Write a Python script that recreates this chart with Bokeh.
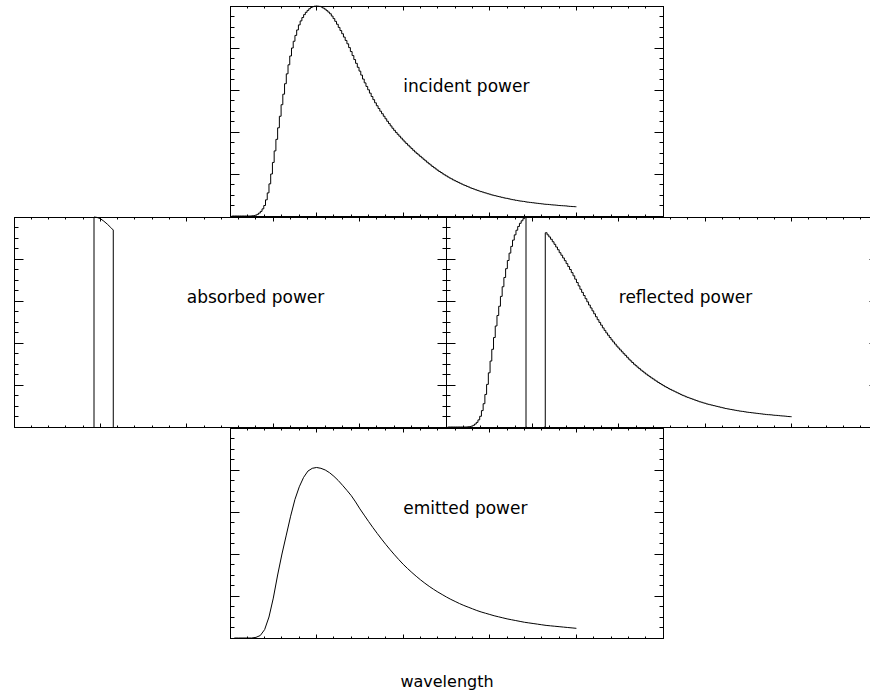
import numpy as np
from bokeh.plotting import figure
from bokeh.models import Range1d, LinearAxis, SingleIntervalTicker, CustomJSTickFormatter
from bokeh.embed import file_html
from bokeh.resources import INLINE
from bokeh.core.properties import value

# ---------------- data ----------------
# incident power, histogram bins centred at 0.02, 0.04, ... 4.00 (axis 0..5)
incident = [
    0, 0, 0, 0, 0, 0, 0, 0, 0, 0,
    0, 0, 0.001, 0.002, 0.004, 0.008, 0.014, 0.022, 0.034, 0.05,
    0.077, 0.11, 0.153, 0.20, 0.255, 0.31, 0.365, 0.42, 0.475, 0.53,
    0.58, 0.63, 0.677, 0.72, 0.762, 0.80, 0.832, 0.86, 0.886, 0.91,
    0.929, 0.945, 0.959, 0.97, 0.979, 0.987, 0.993, 0.997, 0.999, 1.0,
    0.999, 0.998, 0.995, 0.99, 0.985, 0.978, 0.971, 0.963, 0.952, 0.94,
    0.927, 0.913, 0.898, 0.883, 0.868, 0.852, 0.836, 0.82, 0.802, 0.783,
    0.764, 0.745, 0.727, 0.708, 0.690, 0.671, 0.652, 0.634, 0.617, 0.601,
    0.585, 0.569, 0.554, 0.539, 0.525, 0.512, 0.499, 0.487, 0.475, 0.463,
    0.451, 0.440, 0.429, 0.418, 0.408, 0.398, 0.389, 0.380, 0.371, 0.362,
    0.353, 0.345, 0.337, 0.329, 0.321, 0.313, 0.305, 0.298, 0.291, 0.284,
    0.277, 0.270, 0.263, 0.256, 0.249, 0.243, 0.236, 0.230, 0.224, 0.218,
    0.212, 0.207, 0.201, 0.196, 0.191, 0.186, 0.181, 0.177, 0.172, 0.168,
    0.164, 0.160, 0.156, 0.152, 0.148, 0.145, 0.141, 0.138, 0.134, 0.131,
    0.128, 0.125, 0.122, 0.119, 0.116, 0.114, 0.111, 0.109, 0.106, 0.104,
    0.101, 0.099, 0.097, 0.095, 0.093, 0.091, 0.089, 0.087, 0.085, 0.084,
    0.082, 0.080, 0.078, 0.077, 0.075, 0.074, 0.072, 0.071, 0.070, 0.069,
    0.067, 0.066, 0.065, 0.064, 0.063, 0.062, 0.061, 0.060, 0.059, 0.058,
    0.057, 0.056, 0.0555, 0.055, 0.054, 0.053, 0.0525, 0.052, 0.051, 0.050,
    0.0495, 0.049, 0.0485, 0.048, 0.047, 0.046, 0.0455, 0.045, 0.0445, 0.044]
incident_wl = np.round(0.02 * np.arange(1, len(incident) + 1), 3)

# emitted power, smooth curve sampled at 0.05, 0.10, ... 4.00
emitted = [0.0, 0.0, 0.0, 0.0, 0.0, 0.003, 0.012, 0.04, 0.10, 0.19,
           0.30, 0.40, 0.49, 0.58, 0.66, 0.72, 0.765, 0.795, 0.808, 0.812,
           0.808, 0.80, 0.787, 0.77, 0.75, 0.727, 0.703, 0.678, 0.648, 0.615,
           0.585, 0.555, 0.526, 0.498, 0.471, 0.445, 0.42, 0.396, 0.373, 0.351,
           0.331, 0.312, 0.294, 0.277, 0.261, 0.246, 0.232, 0.219, 0.207, 0.195,
           0.184, 0.174, 0.164, 0.155, 0.147, 0.139, 0.131, 0.124, 0.118, 0.112,
           0.106, 0.101, 0.096, 0.091, 0.087, 0.083, 0.079, 0.075, 0.072, 0.069,
           0.066, 0.063, 0.060, 0.058, 0.056, 0.054, 0.052, 0.050, 0.048, 0.046]
emitted_wl = np.round(0.05 * np.arange(1, len(emitted) + 1), 3)

# absorption band edges
band_lo, band_hi = 0.926, 1.149

# reflected power below the band (bins centred 0.02 .. 0.92)
refl_left = [
    0, 0, 0, 0, 0, 0, 0, 0, 0, 0,
    0, 0, 0.001, 0.002, 0.004, 0.008, 0.014, 0.022, 0.034, 0.051,
    0.078, 0.111, 0.155, 0.203, 0.258, 0.314, 0.37, 0.426, 0.481, 0.531,
    0.575, 0.622, 0.668, 0.712, 0.754, 0.793, 0.828, 0.86, 0.89, 0.915,
    0.937, 0.955, 0.97, 0.982, 0.992, 1.0]
refl_left_wl = np.round(0.02 * np.arange(1, len(refl_left) + 1), 3)

# reflected power above the band (bins centred 1.16 .. 4.00)
refl_right = [
    0.925, 0.915, 0.905, 0.894, 0.882, 0.870, 0.857, 0.844, 0.830, 0.818,
    0.805, 0.792, 0.778, 0.764, 0.750, 0.735, 0.720, 0.704, 0.688, 0.672,
    0.656, 0.641, 0.626, 0.611, 0.596, 0.581, 0.567, 0.553, 0.539, 0.525,
    0.511, 0.498, 0.485, 0.472, 0.460, 0.448, 0.437, 0.426, 0.415, 0.405,
    0.395, 0.385, 0.376, 0.367, 0.358, 0.349, 0.341, 0.332, 0.323, 0.315,
    0.307, 0.299, 0.292, 0.285, 0.278, 0.271, 0.265, 0.258, 0.252, 0.246,
    0.240, 0.234, 0.229, 0.223, 0.218, 0.212, 0.207, 0.202, 0.197, 0.192,
    0.188, 0.183, 0.179, 0.175, 0.171, 0.167, 0.163, 0.159, 0.155, 0.151,
    0.148, 0.144, 0.141, 0.138, 0.135, 0.132, 0.129, 0.126, 0.123, 0.120,
    0.118, 0.115, 0.113, 0.110, 0.108, 0.106, 0.104, 0.102, 0.100, 0.098,
    0.096, 0.094, 0.092, 0.090, 0.088, 0.0865, 0.085, 0.0835, 0.082, 0.0805,
    0.079, 0.0775, 0.076, 0.075, 0.074, 0.0725, 0.071, 0.070, 0.069, 0.068,
    0.067, 0.066, 0.065, 0.064, 0.063, 0.062, 0.061, 0.060, 0.059, 0.0585,
    0.058, 0.057, 0.056, 0.0555, 0.055, 0.054, 0.053, 0.0525, 0.052, 0.051,
    0.050, 0.0495, 0.049]
refl_right_wl = np.round(1.16 + 0.02 * np.arange(len(refl_right)), 3)

# absorbed power inside the band
absorbed_wl = [band_lo, band_lo, 0.96, 1.00, 1.04, 1.08, 1.12, band_hi, band_hi]
absorbed = [0.0, 1.0, 0.998, 0.992, 0.98, 0.966, 0.95, 0.938, 0.0]

labels = {"top": "incident power", "left": "absorbed power",
          "right": "reflected power", "bottom": "emitted power"}
x_label = "wavelength"

# ---------------- layout ----------------
W, H = 870, 691
XMAX, YMAX = 5.0, 1.0
LABEL_X, LABEL_Y = 2.0, 0.62
# panel frames in canvas pixels: (left, right, top, bottom)
panels = {
    "top":    (229.5, 662.5, 5.5, 215.5),
    "left":   (13.5, 445.5, 216.5, 426.5),
    "right":  (445.5, 877.5, 216.5, 426.5),
    "bottom": (229.5, 662.5, 427.5, 637.5),
}

p = figure(width=W, height=H, output_backend="svg", toolbar_location=None,
           x_range=Range1d(0, W), y_range=Range1d(0, H),
           x_axis_type=None, y_axis_type=None, min_border=0,
           outline_line_color=None)
p.background_fill_color = "white"
p.border_fill_color = "white"

blank = CustomJSTickFormatter(code="return ''")

for name, (x0, x1, yt, yb) in panels.items():
    sx = XMAX / (x1 - x0)
    p.extra_x_ranges[name] = Range1d(-x0 * sx, XMAX + (W - x1) * sx)
    qb, qt = H - yb, H - yt
    sy = YMAX / (qt - qb)
    p.extra_y_ranges[name] = Range1d(-qb * sy, YMAX + (H - qt) * sy)

    for side, loc in (("below", 0.0), ("above", YMAX)):
        ax = LinearAxis(x_range_name=name, y_range_name=name, fixed_location=loc,
                        bounds=(0, XMAX),
                        ticker=SingleIntervalTicker(interval=1.0, num_minor_ticks=5),
                        major_tick_in=4, major_tick_out=0, minor_tick_in=2, minor_tick_out=0,
                        formatter=blank, major_label_standoff=0,
                        axis_line_color="black", major_tick_line_color="black",
                        minor_tick_line_color="black")
        if name == "bottom" and side == "below":
            ax.axis_label = x_label
            ax.axis_label_standoff = 33
            ax.axis_label_text_font = "DejaVu Sans"
            ax.axis_label_text_font_size = "16px"
            ax.axis_label_text_font_style = "normal"
            ax.axis_label_text_color = "black"
        p.add_layout(ax, side)
    for side, loc in (("left", 0.0), ("right", XMAX)):
        ax = LinearAxis(x_range_name=name, y_range_name=name, fixed_location=loc,
                        bounds=(0, YMAX),
                        ticker=SingleIntervalTicker(interval=0.2, num_minor_ticks=4),
                        major_tick_in=9, major_tick_out=0, minor_tick_in=4, minor_tick_out=0,
                        formatter=blank, major_label_standoff=0,
                        axis_line_color="black", major_tick_line_color="black",
                        minor_tick_line_color="black")
        p.add_layout(ax, side)

    p.text(x=[LABEL_X], y=[LABEL_Y], text=[labels[name]], x_range_name=name, y_range_name=name,
           text_font=value("DejaVu Sans"), text_font_size="17px",
           text_align="left", text_baseline="alphabetic", text_color="black")

# ---------------- curves ----------------
line_kw = dict(line_color="black", line_width=1)
p.step(incident_wl, incident, mode="center", x_range_name="top", y_range_name="top", **line_kw)

p.line(absorbed_wl, absorbed, x_range_name="left", y_range_name="left", **line_kw)

# histogram pieces of the reflected power: drop to zero at the band's lower edge,
# rise again at its upper edge
p.step(list(refl_left_wl) + [2 * band_lo - refl_left_wl[-1]], refl_left + [0.0], mode="center",
       x_range_name="right", y_range_name="right", **line_kw)
p.step([2 * band_hi - refl_right_wl[0]] + list(refl_right_wl), [0.0] + refl_right,
       mode="center", x_range_name="right", y_range_name="right", **line_kw)

p.line(emitted_wl, emitted, x_range_name="bottom", y_range_name="bottom", **line_kw)

open("out.html", "w").write(file_html(p, INLINE))
